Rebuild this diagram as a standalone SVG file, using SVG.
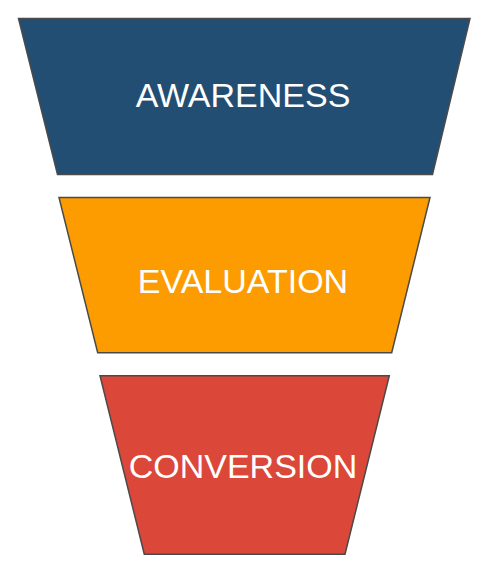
<svg xmlns="http://www.w3.org/2000/svg" width="488" height="574" viewBox="0 0 488 574">
<style>
.stage{stroke:#4a4a4a;stroke-width:1.5;stroke-linejoin:miter}
.lbl{font-family:"Liberation Sans",Arial,sans-serif;font-size:34px;fill:#ffffff;text-anchor:middle}
</style>
<rect width="488" height="574" fill="#ffffff"/>
<g id="awareness">
<polygon class="stage" fill="#234e73" points="18.5,18.5 470,18.5 432.5,174.5 57.5,174.5"/>
<text class="lbl" x="243" y="107.3">AWARENESS</text>
</g>
<g id="evaluation">
<polygon class="stage" fill="#fd9c00" points="59,197.5 430,197.5 391.7,352.7 97.7,352.7"/>
<text class="lbl" x="243" y="293.3">EVALUATION</text>
</g>
<g id="conversion">
<polygon class="stage" fill="#db4739" points="100,375.7 389.3,375.7 345,554.3 144.3,554.3"/>
<text class="lbl" x="243" y="478.3">CONVERSION</text>
</g>
<g id="connectors"></g>
</svg>
